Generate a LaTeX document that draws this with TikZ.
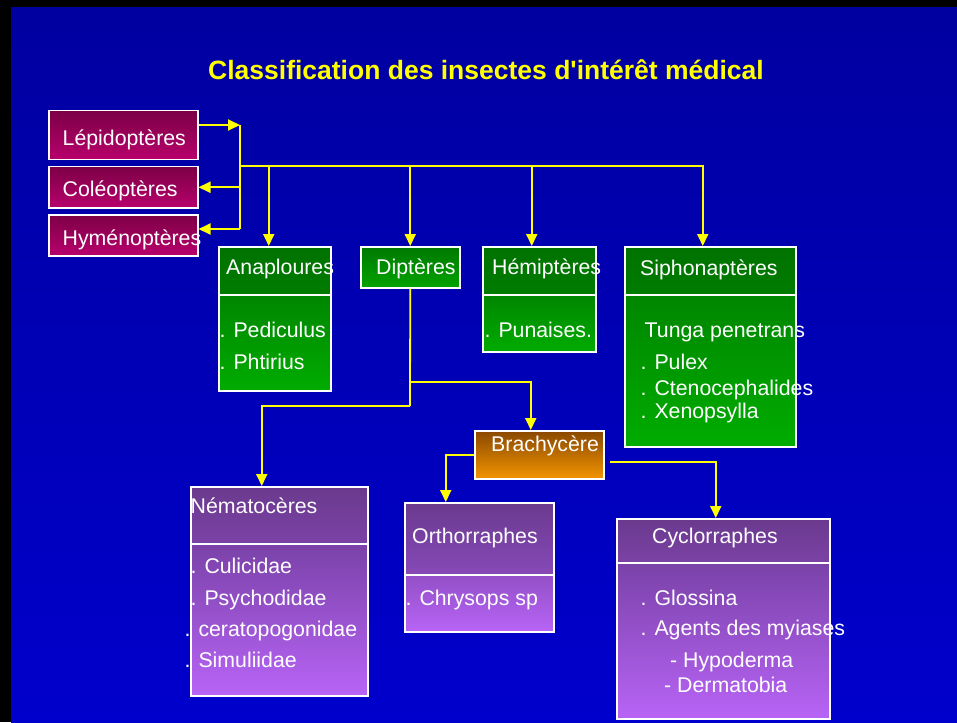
\documentclass[tikz,border=0pt]{standalone}
\usepackage{fontspec}
\newfontfamily\arial{Liberation Sans}
\usetikzlibrary{arrows.meta}
\definecolor{jaune}{HTML}{FFFF00}
\definecolor{bgtop}{HTML}{0000A0}
\definecolor{bgbot}{HTML}{0000CC}
\definecolor{magtop}{HTML}{7C0046}
\definecolor{magbot}{HTML}{B8006C}
\definecolor{vhtop}{HTML}{007200}
\definecolor{vhbot}{HTML}{007C00}
\definecolor{vbtop}{HTML}{008600}
\definecolor{vbbot}{HTML}{00AC00}
\definecolor{ortop}{HTML}{8A4800}
\definecolor{orbot}{HTML}{F29400}
\definecolor{phtop}{HTML}{6A3A8E}
\definecolor{phbot}{HTML}{7C42A6}
\definecolor{pbtop}{HTML}{7A42A8}
\definecolor{pbbot}{HTML}{B864F6}
\tikzset{box/.style={draw=white, line width=1.5pt, inner sep=0pt, anchor=north west}}
\tikzset{mag/.style={top color=magtop, bottom color=magbot}}
\tikzset{vh/.style={top color=vhtop, bottom color=vhbot}}
\tikzset{vb/.style={top color=vbtop, bottom color=vbbot}}
\tikzset{orng/.style={top color=ortop, bottom color=orbot}}
\tikzset{ph/.style={top color=phtop, bottom color=phbot}}
\tikzset{pb/.style={top color=pbtop, bottom color=pbbot}}
\tikzset{txt/.style={text=white, inner sep=0pt, anchor=base west, font=\arial\fontsize{21.3}{21.3}\selectfont}}
\tikzset{ln/.style={jaune, line width=1.8pt}}
\tikzset{arr/.style={ln, -{Triangle[length=12pt,width=11pt]}}}

\begin{document}
\begin{tikzpicture}[x=1pt, y=-1pt, line join=miter]
  \useasboundingbox (0,0) rectangle (957,722);
  \fill[black] (0,0) rectangle (957,722);
  \shade[top color=bgtop, bottom color=bgbot] (11,8) rectangle (957,722);

  \node[anchor=base, text=jaune, inner sep=0pt, font=\arial\bfseries\fontsize{26.5}{26.5}\selectfont]
    (titre) at (486,80) {Classification des insectes d'intérêt médical};

  \node[box, mag, minimum width=149pt, minimum height=49pt] (lep) at (48,110) {};
  \node[box, mag, minimum width=149pt, minimum height=41pt] (col) at (48,166) {};
  \node[box, mag, minimum width=149pt, minimum height=41pt] (hym) at (48,214) {};
  \node[txt] (tlep) at (62.5,146) {Lépidoptères};
  \node[txt] (tcol) at (62.5,196) {Coléoptères};
  \node[txt] (thym) at (62.5,245) {Hyménoptères};

  \node[box, vh, minimum width=112pt, minimum height=48pt] (anaH) at (218,246) {};
  \node[box, vb, minimum width=112pt, minimum height=96pt] (anaB) at (218,294) {};
  \node[txt] (tana) at (226,274) {Anaploures};
  \node[txt] (tped) at (219.5,337) {. Pediculus};
  \node[txt] (tpht) at (219.5,369) {. Phtirius};

  \node[box, top color=vbtop!90!black, bottom color=vbbot!95!black, minimum width=99pt, minimum height=41pt] (dip) at (360,246) {};
  \node[txt] (tdip) at (376,274) {Diptères};

  \node[box, vh, minimum width=113pt, minimum height=48pt] (hemH) at (482,246) {};
  \node[box, vb, minimum width=113pt, minimum height=57pt] (hemB) at (482,294) {};
  \node[txt] (themi) at (492,274) {Hémiptères};
  \node[txt] (tpun) at (484.5,337) {. Punaises.};

  \node[box, vh, minimum width=171pt, minimum height=48pt] (sipH) at (624,246) {};
  \node[box, vb, minimum width=171pt, minimum height=152pt] (sipB) at (624,294) {};
  \node[txt] (tsip) at (640,275) {Siphonaptères};
  \node[txt] (ttun) at (644.5,337) {Tunga penetrans};
  \node[txt] (tpul) at (640.5,369) {. Pulex};
  \node[txt] (tcte) at (640.5,395) {. Ctenocephalides};
  \node[txt] (txen) at (640.5,418) {. Xenopsylla};

  \node[box, orng, minimum width=129pt, minimum height=48pt] (brach) at (474,430) {};
  \node[txt] (tbra) at (491,451) {Brachycère};

  \node[box, ph, minimum width=177pt, minimum height=57pt] (nemH) at (190,486) {};
  \node[box, pb, minimum width=177pt, minimum height=152pt] (nemB) at (190,543) {};
  \node[txt] (tnem) at (190.5,513) {Nématocères};
  \node[txt] (tcul) at (190.5,573) {. Culicidae};
  \node[txt] (tpsy) at (190.5,605) {. Psychodidae};
  \node[txt] (tcer) at (184.5,636) {. ceratopogonidae};
  \node[txt] (tsim) at (184.5,667) {. Simuliidae};

  \node[box, top color=phtop, bottom color=pbtop!80!pbbot, minimum width=149pt, minimum height=72pt] (ortH) at (404,502) {};
  \node[box, top color=pbtop!60!pbbot, bottom color=pbbot, minimum width=149pt, minimum height=57pt] (ortB) at (404,574) {};
  \node[txt] (tort) at (412,543) {Orthorraphes};
  \node[txt] (tchr) at (405.5,605) {. Chrysops sp};

  \node[box, ph, minimum width=213pt, minimum height=44pt] (cycH) at (616,518) {};
  \node[box, pb, minimum width=213pt, minimum height=156pt] (cycB) at (616,562) {};
  \node[txt] (tcyc) at (652,543) {Cyclorraphes};
  \node[txt] (tglo) at (640.5,605) {. Glossina};
  \node[txt] (tage) at (640.5,635) {. Agents des myiases};
  \node[txt] (thyp) at (670,667) {- Hypoderma};
  \node[txt] (tder) at (664,692) {- Dermatobia};

  \coordinate (jn) at (240,125);
  \coordinate (jb) at (240,229);
  \coordinate (bus) at (240,166);
  \draw[arr] (lep.east |- jn) -- (jn);
  \draw[ln] (jn) -- (jb);
  \draw[arr] (jn |- col.east) -- (col.east);
  \draw[arr] (jb) -- (hym.east |- jb);
  \draw[arr] (bus) -| ([xshift=-7.5pt]sipH.north);
  \draw[arr] ([xshift=-6pt]anaH.north |- bus) -- ([xshift=-6pt]anaH.north);
  \draw[arr] (dip.north |- bus) -- (dip.north);
  \draw[arr] ([xshift=-7.5pt]hemH.north |- bus) -- ([xshift=-7.5pt]hemH.north);

  \coordinate (dA) at (410,382);
  \coordinate (dB) at (410,406);
  \draw[ln] (dip.south) -- (dB);
  \draw[arr] (dA) -| ([xshift=-8.5pt]brach.north);
  \draw[arr] (dB) -| ([xshift=-17.5pt]nemH.north);
  \draw[arr] (brach.west) -| ([xshift=-33.5pt]ortH.north);
  \coordinate (bR) at (610,462);
  \draw[arr] (bR) -| ([xshift=-7.5pt]cycH.north);
\end{tikzpicture}
\end{document}
